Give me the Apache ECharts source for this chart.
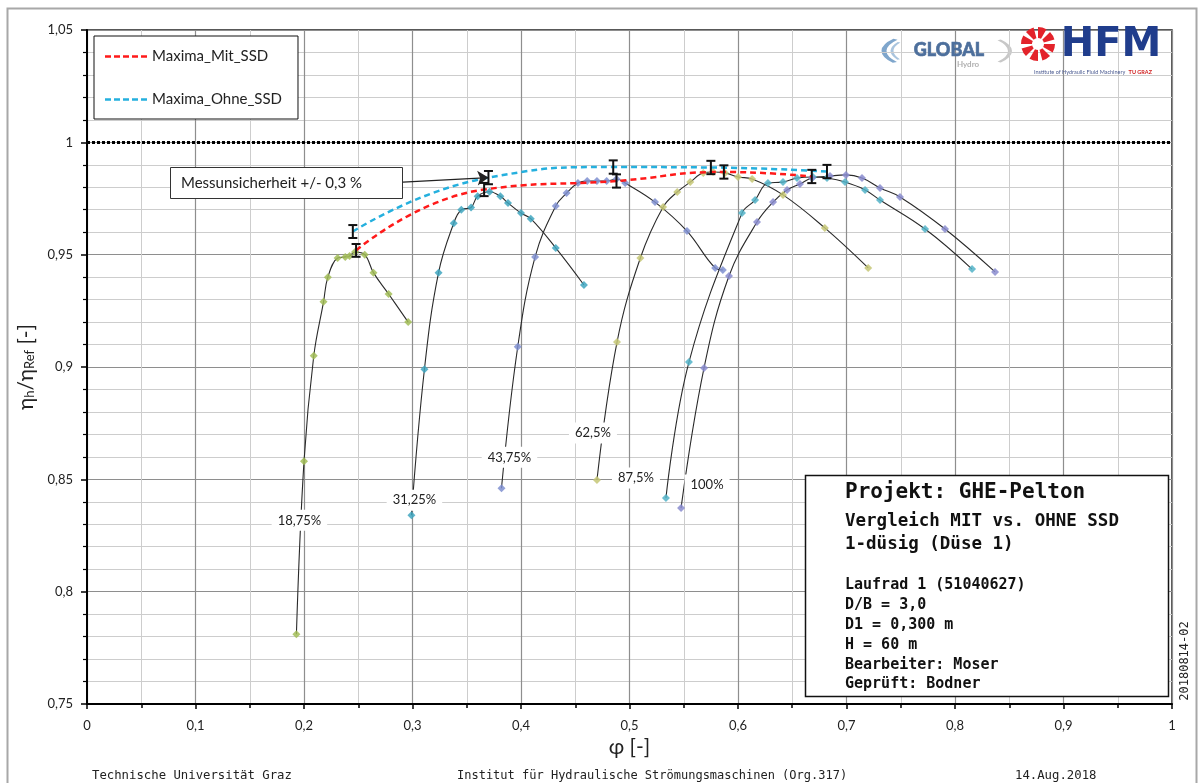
<!DOCTYPE html>
<html>
<head>
<meta charset="utf-8">
<script src="https://cdn.jsdelivr.net/npm/echarts@6/dist/echarts.min.js"></script>
<style>
  html, body { margin: 0; padding: 0; background: #fff; }
  #chart { width: 1201px; height: 783px; }
</style>
</head>
<body>
<div id="chart"></div>
<script>
// Efficiency curves eta_h/eta_Ref over phi for six nozzle openings
const curveNames = ['18,75%', '31,25%', '43,75%', '62,5%', '87,5%', '100%'];

const phi1875 = [0.193, 0.200, 0.209, 0.218, 0.222, 0.231, 0.238, 0.242, 0.247, 0.256, 0.264, 0.278, 0.296];
const eta1875 = [0.781, 0.858, 0.905, 0.929, 0.940, 0.9485, 0.949, 0.9494, 0.9512, 0.950, 0.942, 0.9325, 0.920];

const phi3125 = [0.299, 0.311, 0.324, 0.338, 0.345, 0.354, 0.360, 0.371, 0.381, 0.388, 0.400, 0.409, 0.432, 0.458];
const eta3125 = [0.834, 0.899, 0.942, 0.964, 0.970, 0.971, 0.976, 0.978, 0.976, 0.973, 0.9685, 0.966, 0.953, 0.9365];

const phi4375 = [0.382, 0.397, 0.413, 0.432, 0.442, 0.4525, 0.461, 0.470, 0.479, 0.488, 0.496, 0.5235, 0.553, 0.579, 0.586];
const eta4375 = [0.846, 0.909, 0.949, 0.9717, 0.9774, 0.9819, 0.9828, 0.9828, 0.9828, 0.9837, 0.9819, 0.9734, 0.9605, 0.9441, 0.9432];

const phi625 = [0.470, 0.4885, 0.510, 0.531, 0.544, 0.556, 0.568, 0.577, 0.588, 0.600, 0.613, 0.6415, 0.680, 0.720];
const eta625 = [0.8497, 0.9111, 0.9485, 0.9712, 0.9779, 0.9823, 0.9864, 0.9868, 0.9864, 0.9846, 0.9837, 0.9766, 0.9619, 0.9441];

const phi875 = [0.5336, 0.5548, 0.6037, 0.6157, 0.6276, 0.6415, 0.6544, 0.6691, 0.682, 0.6986, 0.7171, 0.7309, 0.7724, 0.8157];
const eta875 = [0.8417, 0.9022, 0.9685, 0.9743, 0.9819, 0.9823, 0.9841, 0.9846, 0.9841, 0.9823, 0.9788, 0.9743, 0.9614, 0.9436];

const phi100 = [0.5475, 0.5687, 0.5917, 0.6175, 0.6323, 0.6452, 0.6571, 0.6682, 0.6848, 0.6995, 0.7143, 0.7309, 0.7493, 0.7908, 0.8369];
const eta100 = [0.8372, 0.8996, 0.9405, 0.9645, 0.9734, 0.9788, 0.9815, 0.9841, 0.985, 0.9855, 0.9841, 0.9797, 0.9757, 0.9614, 0.9423];

// Maxima of each opening, with and without SSD
const mitPhi = [0.248, 0.366, 0.488, 0.587, 0.668];
const mitEta = [0.9519, 0.979, 0.9828, 0.9868, 0.9848];
const ohnePhi = [0.245, 0.370, 0.485, 0.575, 0.682];
const ohneEta = [0.9603, 0.9843, 0.989, 0.9888, 0.987];

// relative measurement uncertainty (+/- 0,3 %)
const uncertainty = 0.003;

// axis ticks
const xTicks = { min: 0, max: 1, step: 0.1 };
const yTicks = { min: 0.75, max: 1.05, step: 0.05 };

const curvePhi = [phi1875, phi3125, phi4375, phi625, phi875, phi100];
const curveEta = [eta1875, eta3125, eta4375, eta625, eta875, eta100];
const markerColors = ['#a2bd57', '#3fa6c0', '#7f8fd0', '#c5c775', '#52b3c8', '#8a8ccf'];
const labelOffsets = [[3, -114], [3, -15], [8, -31], [-4, -47], [-30, -20], [26, -23]];

const RED = '#ff1a1a';
const BLUE = '#25b0de';
const FONT = 'Lato, "Open Sans", "DejaVu Sans", sans-serif';
const MONO = '"DejaVu Sans Mono", "Liberation Mono", monospace';

const fmt = v => String(Math.round(v * 100) / 100).replace('.', ',');
const zip = (a, b) => a.map((v, i) => [v, b[i]]);

// dashed line icon for the legend (5 dashes)
let dashIcon = 'path://';
for (let i = 0; i < 5; i++) dashIcon += 'M' + (i * 9) + ',0h6v2.6h-6z';

const curveSeries = curveNames.map((name, k) => ({
  name: name,
  type: 'line',
  data: zip(curvePhi[k], curveEta[k]),
  smooth: 0.4,
  symbol: 'diamond',
  symbolSize: 8,
  itemStyle: { color: markerColors[k], opacity: 0.85 },
  lineStyle: { color: '#2a2a2a', width: 1.1 },
  z: 3,
  silent: true,
  markPoint: {
    symbol: 'rect',
    symbolSize: [1, 1],
    itemStyle: { color: 'rgba(0,0,0,0)' },
    data: [{ coord: [curvePhi[k][0], curveEta[k][0]], value: name }],
    label: {
      show: true,
      position: 'inside',
      offset: labelOffsets[k],
      formatter: name,
      fontFamily: FONT,
      fontSize: 13,
      color: '#222',
      backgroundColor: '#fff',
      padding: [4, 6]
    }
  }
}));

function errorBars(name, phis, etas) {
  return {
    name: name,
    type: 'custom',
    silent: true,
    z: 6,
    data: phis.map((p, i) => [p, etas[i], etas[i] * uncertainty]),
    encode: { x: 0, y: 1 },
    renderItem: function (params, api) {
      const x = api.value(0), y = api.value(1), e = api.value(2);
      const top = api.coord([x, y + e]);
      const bot = api.coord([x, y - e]);
      const w = 4.5;
      const st = { stroke: '#111', lineWidth: 2 };
      return {
        type: 'group',
        children: [
          { type: 'line', shape: { x1: top[0], y1: top[1], x2: bot[0], y2: bot[1] }, style: st },
          { type: 'line', shape: { x1: top[0] - w, y1: top[1], x2: top[0] + w, y2: top[1] }, style: st },
          { type: 'line', shape: { x1: bot[0] - w, y1: bot[1], x2: bot[0] + w, y2: bot[1] }, style: st }
        ]
      };
    }
  };
}

const maximaSeries = [
  {
    name: 'Maxima_Mit_SSD',
    type: 'line',
    data: zip(mitPhi, mitEta),
    smooth: 0.5,
    symbol: 'none',
    itemStyle: { color: RED },
    lineStyle: { color: RED, width: 2.5, type: [6, 4] },
    z: 4,
    silent: true,
    markLine: {
      silent: true,
      symbol: 'none',
      label: { show: false },
      lineStyle: { color: '#000', width: 3, type: [3, 2] },
      data: [{ yAxis: 1 }]
    }
  },
  {
    name: 'Maxima_Ohne_SSD',
    type: 'line',
    data: zip(ohnePhi, ohneEta),
    smooth: 0.5,
    symbol: 'none',
    itemStyle: { color: BLUE },
    lineStyle: { color: BLUE, width: 2.5, type: [6, 4] },
    z: 4,
    silent: true,
    markLine: {
      silent: true,
      label: { show: false },
      symbolSize: 11,
      lineStyle: { color: '#222', width: 1.4, type: 'solid' },
      data: [[
        { coord: [0.2912, 0.9823], symbol: 'none' },
        { coord: [ohnePhi[1], ohneEta[1]], symbol: 'arrow' }
      ]]
    }
  }
];

const infoLines = [
  { t: 'Projekt: GHE-Pelton', y: 493, s: 21 },
  { t: 'Vergleich MIT vs. OHNE SSD', y: 521, s: 17.5 },
  { t: '1-düsig (Düse 1)', y: 544, s: 17.5 },
  { t: 'Laufrad 1 (51040627)', y: 585, s: 15 },
  { t: 'D/B = 3,0', y: 605, s: 15 },
  { t: 'D1 = 0,300 m', y: 625, s: 15 },
  { t: 'H = 60 m', y: 645, s: 15 },
  { t: 'Bearbeiter: Moser', y: 665, s: 15 },
  { t: 'Geprüft: Bodner', y: 684, s: 15 }
];

const gearBlades = [];
for (let i = 0; i < 8; i++) {
  const a = i * Math.PI / 4;
  gearBlades.push({
    type: 'sector',
    shape: { cx: 1038, cy: 44, r: 17, r0: 6, startAngle: a, endAngle: a + Math.PI / 6 },
    style: { fill: '#e3232b' },
    z: 50
  });
}

const graphics = [
  // outer frame
  { type: 'rect', shape: { x: 7.5, y: 8.5, width: 1189, height: 800 }, style: { fill: 'none', stroke: '#a8a8a8', lineWidth: 2 }, z: 60, silent: true },
  // annotation
  { type: 'rect', shape: { x: 170.5, y: 167.5, width: 232, height: 31 }, style: { fill: '#fff', stroke: '#333', lineWidth: 1 }, z: 50 },
  { type: 'text', x: 181, y: 183, style: { text: 'Messunsicherheit +/- 0,3 %', font: '15px ' + FONT, fill: '#222', verticalAlign: 'middle' }, z: 51 },
  // info box
  { type: 'rect', shape: { x: 805.5, y: 475.5, width: 363, height: 221 }, style: { fill: '#fff', stroke: '#111', lineWidth: 1.5 }, z: 50 },
  ...infoLines.map(l => ({
    type: 'text', x: 845, y: l.y,
    style: { text: l.t, font: 'bold ' + l.s + 'px ' + MONO, fill: '#111', verticalAlign: 'middle' },
    z: 51
  })),
  // drawing number
  { type: 'text', x: 1185, y: 661, rotation: Math.PI / 2,
    style: { text: '20180814-02', font: '12px ' + MONO, fill: '#222', align: 'center', verticalAlign: 'middle' }, z: 51 },
  // footer
  { type: 'text', x: 92, y: 776, style: { text: 'Technische Universität Graz', font: '12.3px ' + MONO, fill: '#222', verticalAlign: 'middle' } },
  { type: 'text', x: 457, y: 776, style: { text: 'Institut für Hydraulische Strömungsmaschinen (Org.317)', font: '12px ' + MONO, fill: '#222', verticalAlign: 'middle' } },
  { type: 'text', x: 1015, y: 776, style: { text: '14.Aug.2018', font: '12.3px ' + MONO, fill: '#222', verticalAlign: 'middle' } },
  // GLOBAL Hydro logo
  { type: 'group', x: 948, y: 51, scaleY: 0.32, z: 50, children: [
    { type: 'arc', shape: { cx: 0, cy: 0, r: 64, startAngle: 2.55, endAngle: 3.75 }, style: { stroke: '#7fa6cc', lineWidth: 5, fill: 'none' } },
    { type: 'arc', shape: { cx: 0, cy: 0, r: 56, startAngle: 2.65, endAngle: 3.65 }, style: { stroke: '#a9c4de', lineWidth: 3, fill: 'none' } },
    { type: 'arc', shape: { cx: 0, cy: 0, r: 62, startAngle: -0.6, endAngle: 0.6 }, style: { stroke: '#c8c8c8', lineWidth: 4, fill: 'none' } }
  ] },
  { type: 'text', x: 949, y: 50, style: { text: 'GLOBAL', font: '900 18px ' + FONT, fill: '#4d6f9c', stroke: '#4d6f9c', lineWidth: 0.6, align: 'center', verticalAlign: 'middle' }, z: 51 },
  { type: 'text', x: 968, y: 64, style: { text: 'Hydro', font: 'bold 8px ' + FONT, fill: '#b0b0b0', align: 'center', verticalAlign: 'middle' }, z: 51 },
  // HFM logo
  ...gearBlades,
  { type: 'text', x: 1111, y: 46, style: { text: 'HFM', font: 'bold 40px "DejaVu Sans", sans-serif', fill: '#203d8c', align: 'center', verticalAlign: 'middle' }, z: 51 },
  { type: 'text', x: 1093, y: 72, style: {
      text: '{a|Institute of Hydraulic Fluid Machinery} {b|TU GRAZ}',
      align: 'center', verticalAlign: 'middle',
      rich: { a: { font: '5.5px ' + FONT, fill: '#4a5a90' }, b: { font: 'bold 5.5px ' + FONT, fill: '#d02020' } }
    }, z: 51 }
];

const chart = echarts.init(document.getElementById('chart'), null, { renderer: 'canvas' });

chart.setOption({
  animation: false,
  backgroundColor: '#fff',
  textStyle: { fontFamily: FONT },
  grid: { left: 87, right: 29, top: 30, bottom: 79, show: true, borderColor: '#222', borderWidth: 1.5, backgroundColor: 'transparent' },
  legend: {
    data: [
      { name: 'Maxima_Mit_SSD', icon: dashIcon, itemStyle: { color: RED } },
      { name: 'Maxima_Ohne_SSD', icon: dashIcon, itemStyle: { color: BLUE } }
    ],
    orient: 'vertical',
    left: 94,
    top: 36,
    padding: [13, 16, 12, 11],
    itemGap: 28,
    itemWidth: 42,
    itemHeight: 14,
    backgroundColor: '#fff',
    borderColor: '#111',
    borderWidth: 1,
    textStyle: { fontFamily: FONT, fontSize: 15, color: '#222' },
    selectedMode: false,
    z: 20
  },
  xAxis: {
    type: 'value',
    min: xTicks.min,
    max: xTicks.max,
    interval: xTicks.step,
    name: 'φ [-]',
    nameLocation: 'middle',
    nameGap: 28,
    nameTextStyle: { fontFamily: FONT, fontSize: 21, color: '#222' },
    axisLine: { show: true, onZero: false, lineStyle: { color: '#000', width: 2 } },
    axisTick: { show: true, length: 5, lineStyle: { color: '#000', width: 1.5 } },
    minorTick: { show: true, splitNumber: 2, length: 4, lineStyle: { color: '#000', width: 1.5 } },
    axisLabel: { formatter: fmt, fontFamily: FONT, fontSize: 13, color: '#222', margin: 15 },
    splitLine: { show: true, lineStyle: { color: '#8e8e8e', width: 1.2 } },
    minorSplitLine: { show: true, lineStyle: { color: '#cdcdcd', width: 1 } }
  },
  yAxis: {
    type: 'value',
    min: yTicks.min,
    max: yTicks.max,
    interval: yTicks.step,
    name: '{m|η}{s|h}{m|/η}{s|Ref}{m| [-]}',
    nameLocation: 'middle',
    nameGap: 44,
    nameTextStyle: {
      color: '#222',
      rich: {
        m: { fontFamily: FONT, fontSize: 21, color: '#222' },
        s: { fontFamily: FONT, fontSize: 13, color: '#222', verticalAlign: 'bottom', padding: [6, 0, 0, 0] }
      }
    },
    axisLine: { show: true, onZero: false, lineStyle: { color: '#000', width: 2 } },
    axisTick: { show: true, length: 6, lineStyle: { color: '#000', width: 1.5 } },
    minorTick: { show: true, splitNumber: 5, length: 4, lineStyle: { color: '#000', width: 1.2 } },
    axisLabel: { formatter: fmt, fontFamily: FONT, fontSize: 13, color: '#222', margin: 14 },
    splitLine: { show: true, lineStyle: { color: '#8e8e8e', width: 1.2 } },
    minorSplitLine: { show: true, lineStyle: { color: '#cdcdcd', width: 1 } }
  },
  series: [
    ...curveSeries,
    ...maximaSeries,
    errorBars('Fehler_Mit_SSD', mitPhi, mitEta),
    errorBars('Fehler_Ohne_SSD', ohnePhi, ohneEta)
  ],
  graphic: graphics
});
</script>
</body>
</html>
